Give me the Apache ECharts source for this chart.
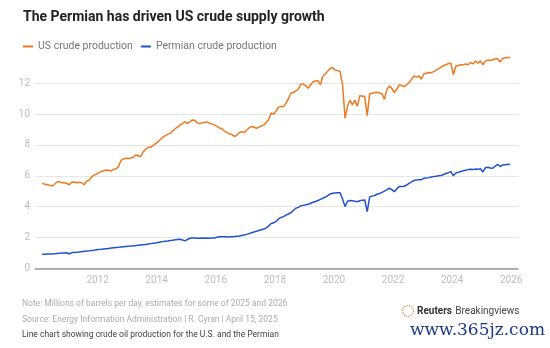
<!DOCTYPE html>
<html>
<head>
<meta charset="utf-8">
<script src="https://cdn.jsdelivr.net/npm/echarts@6/dist/echarts.min.js"></script>
<style>
  html, body { margin: 0; padding: 0; background: #fff; }
  #chart { width: 550px; height: 348px; }
</style>
</head>
<body>
<div id="chart"></div>
<script>
// Monthly series, February 2010 through December 2025 (million barrels per day)
const startYear = 2010;
const startMonth = 2;

const usCrude = [
  // 2010 (Feb-Dec)
  5.52, 5.45, 5.42, 5.38, 5.33, 5.45, 5.60, 5.62, 5.55, 5.55, 5.50,
  // 2011
  5.42, 5.58, 5.60, 5.55, 5.58, 5.55, 5.42, 5.65, 5.70, 5.90, 6.05, 6.10,
  // 2012
  6.20, 6.28, 6.33, 6.38, 6.36, 6.30, 6.42, 6.45, 6.60, 7.00, 7.10, 7.13,
  // 2013
  7.12, 7.15, 7.20, 7.35, 7.30, 7.25, 7.55, 7.72, 7.85, 7.85, 7.95, 8.08,
  // 2014
  8.20, 8.35, 8.50, 8.60, 8.70, 8.75, 8.90, 9.05, 9.15, 9.30, 9.40, 9.50,
  // 2015
  9.40, 9.50, 9.62, 9.60, 9.42, 9.38, 9.45, 9.45, 9.48, 9.40, 9.35, 9.30,
  // 2016
  9.20, 9.10, 9.05, 8.90, 8.80, 8.72, 8.68, 8.55, 8.62, 8.80, 8.85, 8.80,
  // 2017
  8.95, 9.10, 9.20, 9.15, 9.08, 9.15, 9.23, 9.30, 9.45, 9.65, 10.07, 10.00,
  // 2018
  10.20, 10.45, 10.50, 10.48, 10.70, 11.00, 11.35, 11.40, 11.50, 11.60, 11.95, 11.95,
  // 2019
  11.85, 11.67, 11.90, 12.10, 12.15, 12.17, 11.90, 12.47, 12.60, 12.80, 12.97, 13.00,
  // 2020
  12.85, 12.82, 12.75, 11.90, 9.73, 10.50, 10.90, 10.60, 10.90, 10.50, 11.20, 11.15,
  // 2021
  11.15, 9.90, 11.30, 11.35, 11.40, 11.40, 11.38, 11.30, 10.95, 11.60, 11.82, 11.67,
  // 2022
  11.40, 11.60, 11.90, 11.85, 11.78, 11.90, 12.05, 12.25, 12.47, 12.40, 12.47, 12.26,
  // 2023
  12.60, 12.65, 12.70, 12.68, 12.75, 12.85, 12.95, 13.05, 13.15, 13.20, 13.28, 13.30,
  // 2024
  12.55, 13.10, 13.15, 13.20, 13.20, 13.25, 13.20, 13.35, 13.25, 13.45, 13.30, 13.45,
  // 2025
  13.20, 13.45, 13.50, 13.48, 13.52, 13.57, 13.60, 13.38, 13.60, 13.65, 13.66, 13.68
];

const permianCrude = [
  // 2010 (Feb-Dec)
  0.91, 0.91, 0.92, 0.92, 0.93, 0.94, 0.96, 0.98, 1.00, 1.00, 1.01,
  // 2011
  0.93, 1.02, 1.03, 1.04, 1.06, 1.08, 1.10, 1.11, 1.13, 1.15, 1.17, 1.20,
  // 2012
  1.22, 1.23, 1.25, 1.27, 1.29, 1.31, 1.33, 1.35, 1.36, 1.38, 1.40, 1.42,
  // 2013
  1.43, 1.44, 1.46, 1.47, 1.49, 1.51, 1.53, 1.55, 1.58, 1.60, 1.62, 1.64,
  // 2014
  1.67, 1.70, 1.73, 1.75, 1.77, 1.80, 1.82, 1.85, 1.87, 1.88, 1.84, 1.78,
  // 2015
  1.87, 1.95, 1.97, 1.96, 1.95, 1.95, 1.96, 1.95, 1.96, 1.95, 1.96, 1.97,
  // 2016
  2.02, 2.05, 2.04, 2.04, 2.03, 2.04, 2.05, 2.06, 2.08, 2.10, 2.13, 2.16,
  // 2017
  2.20, 2.25, 2.30, 2.35, 2.40, 2.45, 2.50, 2.55, 2.62, 2.75, 2.90, 2.95,
  // 2018
  3.05, 3.20, 3.30, 3.35, 3.45, 3.52, 3.60, 3.75, 3.89, 3.95, 4.05, 4.08,
  // 2019
  4.12, 4.15, 4.22, 4.28, 4.33, 4.40, 4.47, 4.54, 4.62, 4.72, 4.82, 4.86,
  // 2020
  4.88, 4.90, 4.90, 4.50, 4.00, 4.35, 4.39, 4.38, 4.35, 4.32, 4.38, 4.42,
  // 2021
  4.43, 3.67, 4.62, 4.68, 4.72, 4.80, 4.85, 4.92, 5.00, 5.10, 5.19, 5.10,
  // 2022
  4.97, 5.15, 5.30, 5.30, 5.32, 5.40, 5.50, 5.60, 5.70, 5.72, 5.75, 5.75,
  // 2023
  5.84, 5.86, 5.88, 5.92, 5.95, 5.97, 6.00, 6.02, 6.08, 6.15, 6.20, 6.27,
  // 2024
  6.00, 6.18, 6.22, 6.28, 6.32, 6.36, 6.40, 6.42, 6.40, 6.44, 6.43, 6.45,
  // 2025
  6.25, 6.52, 6.55, 6.50, 6.49, 6.62, 6.74, 6.60, 6.70, 6.72, 6.73, 6.74
];

const yearTicks = [2012, 2014, 2016, 2018, 2020, 2022, 2024, 2026];
const valueTicks = [0, 2, 4, 6, 8, 10, 12];

const seriesNames = ['US crude production', 'Permian crude production'];
const titleText = 'The Permian has driven US crude supply growth';
const noteText = 'Note: Millions of barrels per day, estimates for some of 2025 and 2026';
const sourceText = 'Source: Energy Information Administration | R. Cyran | April 15, 2025';
const captionText = 'Line chart showing crude oil production for the U.S. and the Permian';

// Mid-month position on a decimal-year axis
function monthPoint(i) {
  const m = startMonth - 1 + i;
  return startYear + Math.floor(m / 12) + ((m % 12) + 0.5) / 12;
}
const pairs = arr => arr.map((v, i) => [monthPoint(i), v]);

const FONT = 'Roboto, "Open Sans", sans-serif';
const chart = echarts.init(document.getElementById('chart'), null, { renderer: 'canvas' });

chart.setOption({
  animation: false,
  backgroundColor: '#ffffff',
  title: {
    text: titleText,
    left: 18,
    top: 5,
    textStyle: { fontFamily: FONT, fontWeight: 'bold', fontSize: 14, color: '#222222' }
  },
  legend: {
    left: 18,
    top: 36,
    icon: 'rect',
    itemWidth: 10,
    itemHeight: 2,
    itemGap: 8,
    textStyle: { fontFamily: FONT, fontSize: 10.5, color: '#777777' },
    data: seriesNames
  },
  grid: { left: 35, right: 32, top: 52.4, bottom: 79.7 },
  xAxis: {
    type: 'value',
    min: 2009.88,
    max: 2026.23,
    axisLine: { show: true, lineStyle: { color: '#9a9a9a', width: 1.5 } },
    axisTick: { show: false },
    splitLine: { show: false },
    axisLabel: {
      customValues: yearTicks,
      formatter: v => String(v),
      fontFamily: FONT,
      fontSize: 10,
      color: '#bdbdbd',
      margin: 7
    }
  },
  yAxis: {
    type: 'value',
    min: 0,
    max: 14,
    axisLine: { show: false },
    axisTick: { show: false, customValues: valueTicks },
    splitLine: { show: true, lineStyle: { color: '#e6e6e6', width: 1.2 } },
    axisLabel: {
      customValues: valueTicks,
      fontFamily: FONT,
      fontSize: 10,
      color: '#bdbdbd',
      margin: 5
    }
  },
  series: [
    {
      name: seriesNames[0],
      type: 'line',
      data: pairs(usCrude),
      showSymbol: false,
      lineStyle: { color: '#ec7a23', width: 1.5 },
      itemStyle: { color: '#ec7a23' }
    },
    {
      name: seriesNames[1],
      type: 'line',
      data: pairs(permianCrude),
      showSymbol: false,
      lineStyle: { color: '#2351d1', width: 1.5 },
      itemStyle: { color: '#2351d1' }
    }
  ],
  graphic: [
    { type: 'text', left: 22, top: 299, style: { text: noteText, font: '8.5px ' + FONT, fill: '#acacac' } },
    { type: 'text', left: 22, top: 315, style: { text: sourceText, font: '8.5px ' + FONT, fill: '#acacac' } },
    { type: 'text', left: 22, top: 330, style: { text: captionText, font: '8.5px ' + FONT, fill: '#444444' } },
    {
      type: 'circle',
      shape: { cx: 408, cy: 311, r: 5.5 },
      style: { fill: 'none', stroke: '#e8893a', lineWidth: 1.5, lineDash: [1, 1.4] }
    },
    {
      type: 'text', left: 417, top: 305,
      style: {
        text: '{b|Reuters} {r|Breakingviews}',
        rich: {
          b: { font: 'bold 10px ' + FONT, fill: '#333333' },
          r: { font: '10px ' + FONT, fill: '#444444' }
        }
      }
    },
    {
      type: 'text', left: 410, top: 322,
      style: { text: 'www.365jz.com', font: '17px "DejaVu Serif", "Liberation Serif", serif', fill: '#1d3a8a' }
    }
  ]
});
</script>
</body>
</html>
